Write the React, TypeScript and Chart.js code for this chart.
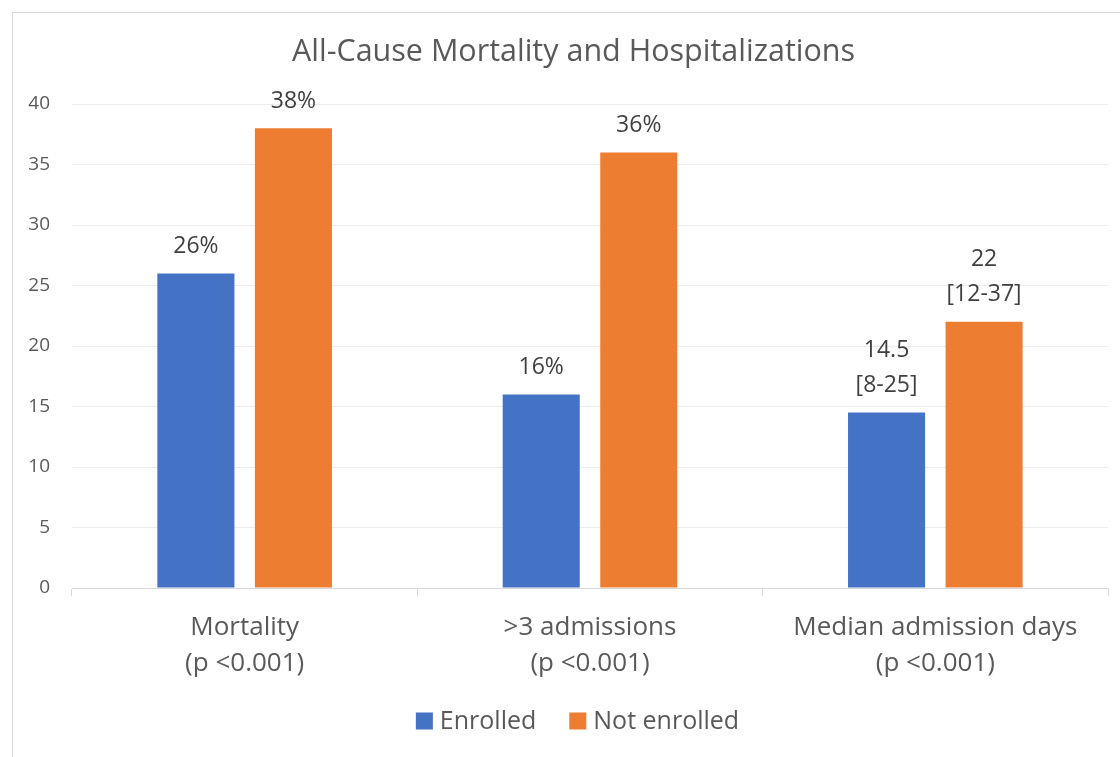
import React, { useEffect, useRef } from "react";
import { Chart, registerables } from "chart.js";

Chart.register(...registerables);

const titleText = "All-Cause Mortality and Hospitalizations";
const categories: string[][] = [
  ["Mortality", "(p <0.001)"],
  [">3 admissions", "(p <0.001)"],
  ["Median admission days", "(p <0.001)"],
];
const seriesNames = ["Enrolled", "Not enrolled"];
const seriesColors = ["#4472C4", "#ED7D31"];
const enrolledValues = [26, 16, 14.5];
const notEnrolledValues = [38, 36, 22];
const enrolledLabels: string[][] = [["26%"], ["16%"], ["14.5", "[8-25]"]];
const notEnrolledLabels: string[][] = [["38%"], ["36%"], ["22", "[12-37]"]];
const yTicks = [0, 5, 10, 15, 20, 25, 30, 35, 40];

const FONT = "'Open Sans', sans-serif";

const borderPlugin = {
  id: "outerBorder",
  beforeDraw(chart: any) {
    const ctx = chart.ctx;
    ctx.save();
    ctx.fillStyle = "#ffffff";
    ctx.fillRect(0, 0, chart.width, chart.height);
    ctx.strokeStyle = "#d9d9d9";
    ctx.lineWidth = 1;
    ctx.strokeRect(12.5, 12.5, 1300, 900);
    ctx.restore();
  },
};

const titlePlugin = {
  id: "customTitle",
  afterDraw(chart: any) {
    const ctx = chart.ctx;
    ctx.save();
    ctx.font = `30.5px ${FONT}`;
    ctx.fillStyle = "#595959";
    ctx.textAlign = "center";
    ctx.textBaseline = "middle";
    ctx.fillText(titleText, 573.5, 52);
    ctx.restore();
  },
};

const labelPlugin = {
  id: "barLabels",
  afterDatasetsDraw(chart: any) {
    const ctx = chart.ctx;
    const sets = [enrolledLabels, notEnrolledLabels];
    ctx.save();
    ctx.font = `23px ${FONT}`;
    ctx.fillStyle = "#404040";
    ctx.textAlign = "center";
    ctx.textBaseline = "middle";
    sets.forEach((labels, di) => {
      const meta = chart.getDatasetMeta(di);
      meta.data.forEach((bar: any, i: number) => {
        const lines = labels[i];
        const n = lines.length;
        lines.forEach((line: string, li: number) => {
          const y = bar.y - 27 - (n - 1 - li) * 35;
          ctx.fillText(line, bar.x, y);
        });
      });
    });
    ctx.restore();
  },
};

const legendPlugin = {
  id: "customLegend",
  afterDraw(chart: any) {
    const ctx = chart.ctx;
    ctx.save();
    ctx.font = `25px ${FONT}`;
    ctx.textBaseline = "middle";
    ctx.textAlign = "left";
    const box = 17;
    const gap = 7;
    const spacing = 33;
    const widths = seriesNames.map((n) => ctx.measureText(n).width);
    const total =
      widths.reduce((a, w) => a + box + gap + w, 0) + spacing * (seriesNames.length - 1);
    const cy = 721;
    let x = 577.5 - total / 2;
    seriesNames.forEach((name, i) => {
      ctx.fillStyle = seriesColors[i];
      ctx.fillRect(x, cy - box / 2, box, box);
      ctx.fillStyle = "#595959";
      ctx.fillText(name, x + box + gap, cy + 1);
      x += box + gap + widths[i] + spacing;
    });
    ctx.restore();
  },
};

export default function App() {
  const ref = useRef<HTMLCanvasElement | null>(null);
  useEffect(() => {
    if (!ref.current) return;
    const chart = new Chart(ref.current, {
      type: "bar",
      data: {
        labels: categories,
        datasets: [
          {
            label: seriesNames[0],
            data: enrolledValues,
            backgroundColor: seriesColors[0],
            categoryPercentage: 0.565,
            barPercentage: 0.79,
          },
          {
            label: seriesNames[1],
            data: notEnrolledValues,
            backgroundColor: seriesColors[1],
            categoryPercentage: 0.565,
            barPercentage: 0.79,
          },
        ],
      },
      options: {
        responsive: false,
        animation: false,
        layout: { padding: { left: 0, right: 12, top: 104, bottom: 0 } },
        plugins: {
          title: { display: false },
          legend: { display: false },
          tooltip: { enabled: false },
        },
        scales: {
          x: {
            grid: {
              display: true,
              drawOnChartArea: false,
              drawTicks: true,
              tickLength: 8,
              color: "#d9d9d9",
              offset: true,
            },
            border: { display: true, color: "#d9d9d9", width: 1 },
            ticks: {
              color: "#595959",
              font: { family: FONT, size: 26, lineHeight: 1.35 },
              padding: 14.5,
              maxRotation: 0,
              autoSkip: false,
            },
            afterFit(scale: any) {
              scale.height = 169;
            },
          },
          y: {
            min: 0,
            max: 40,
            afterBuildTicks(scale: any) {
              scale.ticks = yTicks.map((v) => ({ value: v }));
            },
            grid: { color: "#ececec", drawTicks: false },
            border: { display: false },
            ticks: {
              color: "#595959",
              font: { family: FONT, size: 19 },
              padding: 22,
            },
            afterFit(scale: any) {
              scale.width = 72;
            },
          },
        },
      },
      plugins: [borderPlugin, labelPlugin, titlePlugin, legendPlugin],
    });
    return () => chart.destroy();
  }, []);
  return (
    <div style={{ position: "absolute", left: 0, top: 0, width: 1120, height: 757 }}>
      <canvas ref={ref} width={1120} height={757} />
    </div>
  );
}
